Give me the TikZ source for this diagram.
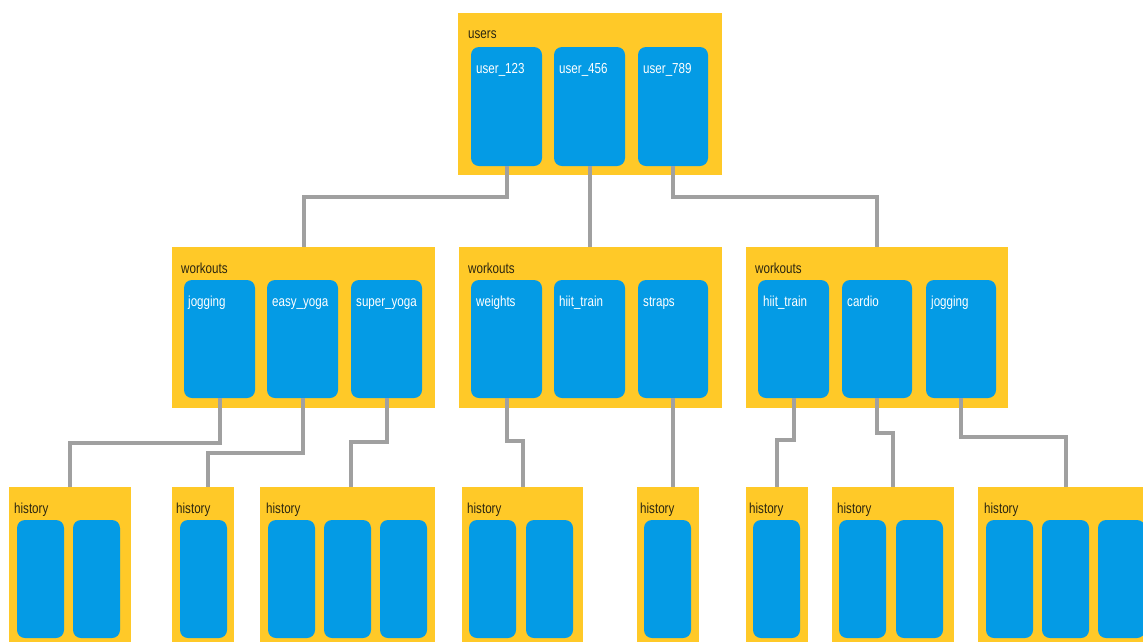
\documentclass[tikz,border=0pt]{standalone}
\usepackage{fontspec}
\setmainfont{Liberation Sans}
\newfontfamily\narrowsans[FakeStretch=0.8]{Liberation Sans}
\definecolor{amber}{HTML}{FFC928}
\definecolor{sky}{HTML}{049BE5}
\definecolor{linkgray}{HTML}{A0A0A0}
\definecolor{ink}{HTML}{2B2611}
\begin{document}
\begin{tikzpicture}[x=1pt,y=-1pt,
  cont/.style={fill=amber,inner sep=0pt,anchor=north west,outer sep=0pt},
  cell/.style={fill=sky,rounded corners=8pt,inner sep=0pt,anchor=north west,outer sep=0pt,
               minimum width=71pt,minimum height=118pt},
  hcell/.style={fill=sky,rounded corners=8pt,inner sep=0pt,anchor=north west,outer sep=0pt,
               minimum width=47pt,minimum height=118pt},
  ctitle/.style={anchor=base west,inner sep=0pt,text=ink,font=\narrowsans\fontsize{14.5}{16}\selectfont},
  ctext/.style={anchor=base west,inner sep=0pt,text=white,font=\narrowsans\fontsize{14.5}{16}\selectfont},
  link/.style={draw=linkgray,line width=4pt}]
\useasboundingbox (0,0) rectangle (1143,641);
\clip (0,0) rectangle (1143,641);
\fill[white] (0,0) rectangle (1143,641);

% ---- users collection ----
\node[cont,minimum width=264pt,minimum height=162pt] (users) at (458,13) {};
\node[ctitle] (usersT) at (468,38) {users};
\node[cell,minimum height=119pt] (u1) at (471,47) {};
\node[cell,minimum height=119pt] (u2) at (554,47) {};
\node[cell,minimum height=119pt,minimum width=70pt] (u3) at (638,47) {};
\node[ctext] (u1T) at (476,73) {user\_123};
\node[ctext] (u2T) at (559,73) {user\_456};
\node[ctext] (u3T) at (643,73) {user\_789};

% ---- workouts collections ----
\node[cont,minimum width=263pt,minimum height=161pt] (wA) at (172,247) {};
\node[ctitle] (wAT) at (181,273) {workouts};
\node[cell] (a1) at (184,280) {};
\node[cell] (a2) at (267,280) {};
\node[cell] (a3) at (351,280) {};
\node[ctext] (a1T) at (188,306) {jogging};
\node[ctext] (a2T) at (272,306) {easy\_yoga};
\node[ctext] (a3T) at (356,306) {super\_yoga};

\node[cont,minimum width=263pt,minimum height=161pt] (wB) at (459,247) {};
\node[ctitle] (wBT) at (468,273) {workouts};
\node[cell] (b1) at (471,280) {};
\node[cell] (b2) at (554,280) {};
\node[cell,minimum width=70pt] (b3) at (638,280) {};
\node[ctext] (b1T) at (476,306) {weights};
\node[ctext] (b2T) at (559,306) {hiit\_train};
\node[ctext] (b3T) at (643,306) {straps};

\node[cont,minimum width=262pt,minimum height=161pt] (wC) at (746,247) {};
\node[ctitle] (wCT) at (755,273) {workouts};
\node[cell] (c1) at (758,280) {};
\node[cell,minimum width=70pt] (c2) at (842,280) {};
\node[cell,minimum width=70pt] (c3) at (926,280) {};
\node[ctext] (c1T) at (763,306) {hiit\_train};
\node[ctext] (c2T) at (847,306) {cardio};
\node[ctext] (c3T) at (931,306) {jogging};

% ---- history collections ----
\node[cont,minimum width=122pt,minimum height=170pt] (h1) at (9,487) {};
\node[ctitle] (h1T) at (14,513) {history};
\node[hcell] (h1a) at (17,520) {};
\node[hcell] (h1b) at (73,520) {};

\node[cont,minimum width=62pt,minimum height=170pt] (h2) at (172,487) {};
\node[ctitle] (h2T) at (176,513) {history};
\node[hcell] (h2a) at (180,520) {};

\node[cont,minimum width=175pt,minimum height=170pt] (h3) at (260,487) {};
\node[ctitle] (h3T) at (266,513) {history};
\node[hcell] (h3a) at (268,520) {};
\node[hcell] (h3b) at (324,520) {};
\node[hcell] (h3c) at (380,520) {};

\node[cont,minimum width=121pt,minimum height=170pt] (h4) at (462,487) {};
\node[ctitle] (h4T) at (467,513) {history};
\node[hcell] (h4a) at (469,520) {};
\node[hcell] (h4b) at (526,520) {};

\node[cont,minimum width=62pt,minimum height=170pt] (h5) at (637,487) {};
\node[ctitle] (h5T) at (640,513) {history};
\node[hcell] (h5a) at (644,520) {};

\node[cont,minimum width=62pt,minimum height=170pt] (h6) at (746,487) {};
\node[ctitle] (h6T) at (749,513) {history};
\node[hcell] (h6a) at (753,520) {};

\node[cont,minimum width=122pt,minimum height=170pt] (h7) at (832,487) {};
\node[ctitle] (h7T) at (837,513) {history};
\node[hcell] (h7a) at (839,520) {};
\node[hcell] (h7b) at (896,520) {};

\node[cont,minimum width=176pt,minimum height=170pt] (h8) at (978,487) {};
\node[ctitle] (h8T) at (984,513) {history};
\node[hcell] (h8a) at (986,520) {};
\node[hcell] (h8b) at (1042,520) {};
\node[hcell] (h8c) at (1098,520) {};

% ---- connectors ----
\draw[link] (u1.south) -- ++(0,31) -| (wA.north);
\draw[link] (u2.south) -- (u2.south |- wB.north);
\draw[link] (u3.south) -- ++(0,31) -| (wC.north);

\draw[link] (a1.south) -- ++(0,45) -| (h1.north);
\draw[link] (a2.south) -- ++(0,55) -| ([xshift=5pt]h2.north);
\draw[link] (a3.south) -- ++(0,44) -| ([xshift=3pt]h3.north);
\draw[link] (b1.south) -- ++(0,43) -| (h4.north);
\draw[link] (b3.south) -- (b3.south |- h5.north);
\draw[link] (c1.south) -- ++(0,42) -| (h6.north);
\draw[link] (c2.south) -- ++(0,35) -| (h7.north);
\draw[link] (c3.south) -- ++(0,39) -| (h8.north);
\end{tikzpicture}
\end{document}
